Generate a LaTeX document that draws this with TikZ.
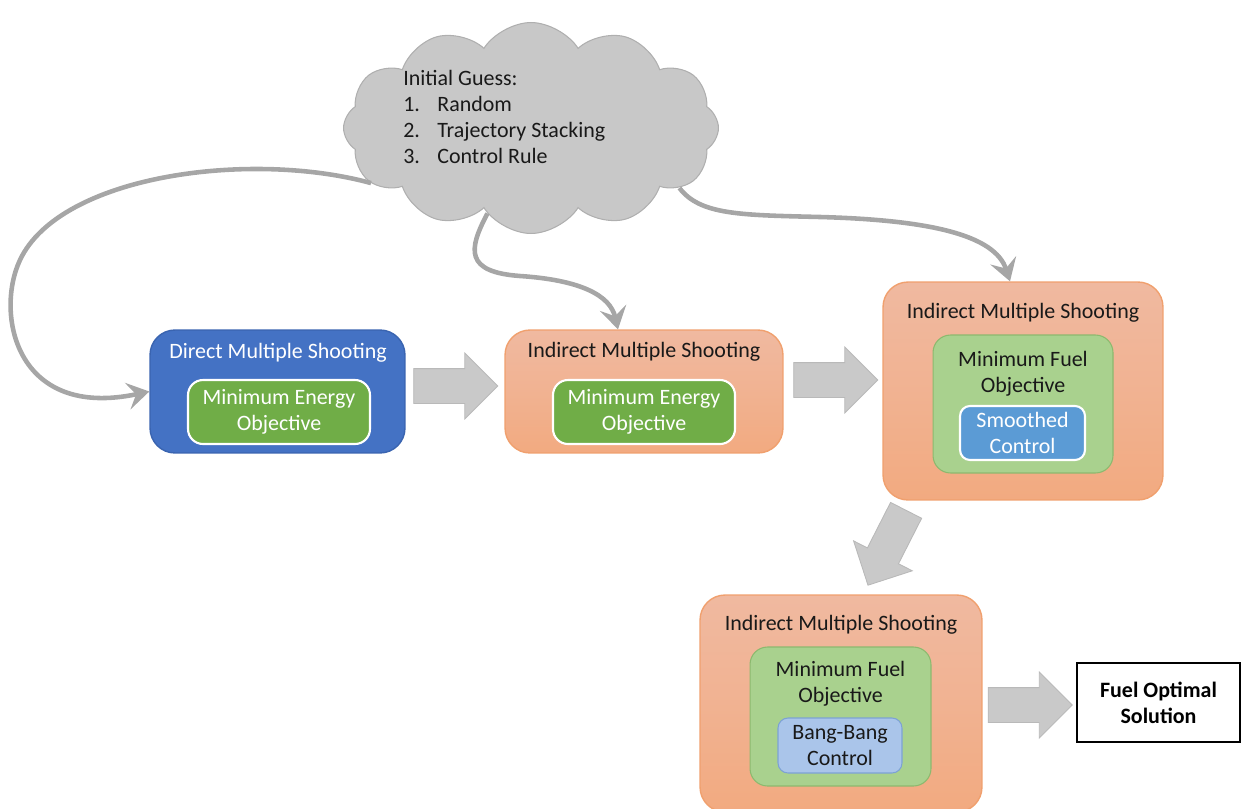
\documentclass[tikz,border=0pt]{standalone}
\usepackage{fontspec}
\setmainfont{Carlito}
\usetikzlibrary{shapes.symbols,shapes.arrows,arrows.meta,calc}
\definecolor{dblue}{RGB}{68,114,196}
\definecolor{dblueb}{RGB}{58,100,176}
\definecolor{dgreen}{RGB}{112,173,71}
\definecolor{lgreen}{RGB}{169,209,142}
\definecolor{lgreenb}{RGB}{140,185,110}
\definecolor{sblue}{RGB}{91,155,213}
\definecolor{lblue}{RGB}{170,197,234}
\definecolor{lblueb}{RGB}{125,162,212}
\definecolor{orgtop}{RGB}{240,185,160}
\definecolor{orgbot}{RGB}{242,170,128}
\definecolor{orgb}{RGB}{240,160,110}
\definecolor{cloudf}{RGB}{200,200,200}
\definecolor{cloudb}{RGB}{175,175,175}
\definecolor{conn}{RGB}{166,166,166}
\definecolor{barrow}{RGB}{201,201,201}
\definecolor{barrowb}{RGB}{185,185,185}
\definecolor{txt}{RGB}{25,25,25}
\begin{document}
\begin{tikzpicture}[x=0.02cm,y=-0.02cm,
  every node/.style={font=\fontsize{12.5}{14.8}\selectfont, inner sep=0pt},
  outerbox/.style={rounded corners=0.5cm, line width=0.8pt},
  orangebox/.style={outerbox, draw=orgb, top color=orgtop, bottom color=orgbot, middle color=orgtop!55!orgbot},
  bluebox/.style={outerbox, draw=dblueb, fill=dblue},
  greenbox/.style={rounded corners=0.3cm, draw=white, line width=1.2pt, fill=dgreen, text=white, align=center},
  lgbox/.style={rounded corners=0.35cm, draw=lgreenb, line width=0.6pt, fill=lgreen},
  smbox/.style={rounded corners=0.2cm, draw=white, line width=1.2pt, fill=sblue, text=white, align=center},
  bbbox/.style={rounded corners=0.2cm, draw=lblueb, line width=0.6pt, fill=lblue, text=txt, align=center},
  title/.style={text=txt},
  blockarrow/.style={single arrow, draw=barrowb, line width=0.5pt, fill=barrow,
     minimum height=1.68cm, inner xsep=0pt, inner ysep=0.34cm, single arrow head extend=0.31cm},
  conn/.style={draw=conn, line width=2.6pt, -{Stealth[length=4.4mm,width=5.4mm,inset=1.7mm]}}
]
\useasboundingbox (0,0) rectangle (1243,808);

% cloud
\node[cloud, cloud puffs=12, cloud puff arc=115, aspect=1.75, draw=cloudb, fill=cloudf, line width=0.6pt,
      minimum width=7.5cm, minimum height=4.22cm] (cloud) at (531,128) {};
\node[anchor=north west, align=left, text=txt] (cloudtxt) at (403,70)
  {Initial Guess:\\\makebox[0.68cm][l]{1.}Random\\\makebox[0.68cm][l]{2.}Trajectory Stacking\\\makebox[0.68cm][l]{3.}Control Rule};

% direct multiple shooting
\node[bluebox, minimum width=5.1cm, minimum height=2.46cm] (direct) at (277.5,391.5) {};
\node[text=white] (directtitle) at (278,353) {Direct Multiple Shooting};
\node[greenbox, minimum width=3.64cm, minimum height=1.28cm] (directobj) at (279,412) {Minimum Energy\\Objective};

% indirect 1
\node[orangebox, minimum width=5.56cm, minimum height=2.46cm] (ind1) at (644,391.5) {};
\node[title] (ind1title) at (644,352) {Indirect Multiple Shooting};
\node[greenbox, minimum width=3.64cm, minimum height=1.28cm] (ind1obj) at (644,412) {Minimum Energy\\Objective};

% indirect 2
\node[orangebox, minimum width=5.6cm, minimum height=4.36cm] (ind2) at (1023,391) {};
\node[title] (ind2title) at (1023,313) {Indirect Multiple Shooting};
\node[lgbox, minimum width=3.6cm, minimum height=2.76cm] (ind2obj) at (1023,404) {};
\node[title, align=center] (ind2objtxt) at (1023,374) {Minimum Fuel\\Objective};
\node[smbox, minimum width=2.5cm, minimum height=1.08cm] (ind2ctrl) at (1022.5,433) {Smoothed\\Control};

% indirect 3
\node[orangebox, minimum width=5.64cm, minimum height=4.34cm] (ind3) at (841,703.5) {};
\node[title] (ind3title) at (841,625) {Indirect Multiple Shooting};
\node[lgbox, minimum width=3.62cm, minimum height=2.78cm] (ind3obj) at (840.5,716.5) {};
\node[title, align=center] (ind3objtxt) at (840.5,684) {Minimum Fuel\\Objective};
\node[bbbox, minimum width=2.48cm, minimum height=1.1cm] (ind3ctrl) at (840,745.5) {Bang-Bang\\Control};

% result
\node[draw=black, line width=0.9pt, fill=white, minimum width=3.26cm, minimum height=1.58cm,
      align=center, font=\fontsize{12.5}{14.8}\selectfont\bfseries, text=black] (fuel) at (1158.5,702.5) {Fuel Optimal\\Solution};

% block arrows
\node[blockarrow] (a1) at (447,386) {};
\node[blockarrow] (a2) at (827,380) {};
\node[blockarrow, rotate=243] (a3) at (891,540) {};
\node[blockarrow] (a4) at (1021.5,705) {};

% curved connectors
\draw[conn] (cloud.199) .. controls (250,150) and (60,175) .. (20,260)
   .. controls (-5,313) and (15,420) .. (direct.west);
\draw[conn] (cloud.243) .. controls (468,250) and (465,272) .. (520,276)
   .. controls (580,280) and (610,295) .. ($(ind1.north)+(-26,0)$);
\draw[conn] (cloud.338) .. controls (700,215) and (740,215) .. (820,217)
   .. controls (930,220) and (995,235) .. ($(ind2.north)+(-13,0)$);
\end{tikzpicture}
\end{document}
